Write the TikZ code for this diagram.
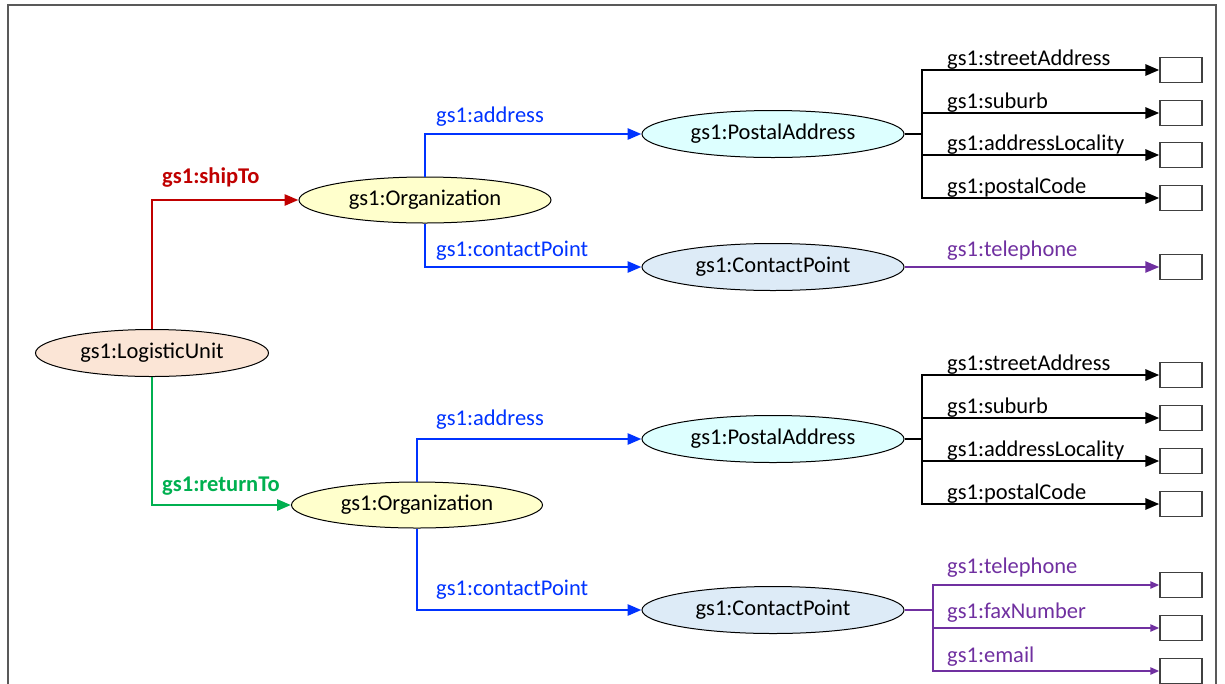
\documentclass[tikz,border=0pt]{standalone}
\usepackage{fontspec}
\setmainfont{Carlito}
\usetikzlibrary{shapes.geometric,arrows.meta}
\definecolor{cRed}{HTML}{C00000}
\definecolor{cGreen}{HTML}{00B050}
\definecolor{cBlue}{HTML}{0033FF}
\definecolor{cPurple}{HTML}{7030A0}
\definecolor{fPeach}{HTML}{FBE5D6}
\definecolor{fYellow}{HTML}{FFFFCC}
\definecolor{fCyan}{HTML}{DDFFFF}
\definecolor{fBlue}{HTML}{DDEBF7}
\newcommand\fsz{\fontsize{22.5}{27}\selectfont}
\tikzset{
  cls/.style={ellipse, draw=black, line width=1pt, inner sep=0pt, font=\fsz},
  conn/.style={line width=2.8pt, -{Triangle[length=14pt,width=11pt]}},
  thinconn/.style={line width=2.2pt, -{Triangle[length=9pt,width=7pt]}},
  lit/.style={draw=black!75, line width=1.3pt, minimum width=42pt, minimum height=25pt, inner sep=0pt},
  lbl/.style={anchor=base west, inner sep=0pt, font=\fsz},
  blbl/.style={anchor=base west, inner sep=0pt, font=\fsz\bfseries},
}
\begin{document}
\begin{tikzpicture}[x=1pt,y=-1pt]
\useasboundingbox (0,0) rectangle (1225,683);
\draw[line width=2pt, black!65] (8,700) -- (8,5) -- (1216,5) -- (1216,700);

% class nodes
\node[cls, fill=fPeach, minimum width=233pt, minimum height=47pt] (lu) at (152,353) {gs1:LogisticUnit};
\node[cls, fill=fYellow, minimum width=252pt, minimum height=46pt] (org1) at (425,200) {gs1:Organization};
\node[cls, fill=fYellow, minimum width=251pt, minimum height=46pt] (org2) at (417,505) {gs1:Organization};
\node[cls, fill=fCyan, minimum width=262pt, minimum height=47pt] (pa1) at (773,134) {gs1:PostalAddress};
\node[cls, fill=fBlue, minimum width=262pt, minimum height=47pt] (cp1) at (773,267) {gs1:ContactPoint};
\node[cls, fill=fCyan, minimum width=262pt, minimum height=47pt] (pa2) at (773,439) {gs1:PostalAddress};
\node[cls, fill=fBlue, minimum width=262pt, minimum height=47pt] (cp2) at (773,610) {gs1:ContactPoint};

% literal boxes
\node[lit] (b11) at (1181,70) {};
\node[lit] (b12) at (1181,113) {};
\node[lit] (b13) at (1181,155) {};
\node[lit] (b14) at (1181,198) {};
\node[lit] (t1) at (1181,267) {};
\node[lit] (b21) at (1181,375) {};
\node[lit] (b22) at (1181,418) {};
\node[lit] (b23) at (1181,461) {};
\node[lit] (b24) at (1181,504) {};
\node[lit] (t21) at (1181,585) {};
\node[lit] (t22) at (1181,628) {};
\node[lit] (t23) at (1181,671) {};

% junctions
\coordinate (j1) at (922,134);
\coordinate (j2) at (922,439);
\coordinate (j3) at (933,610);

% main connectors
\draw[conn, cRed] (lu.north) |- (org1.west);
\draw[conn, cGreen] (lu.south) |- (org2.west);
\draw[conn, cBlue] (org1.north) |- (pa1.west);
\draw[conn, cBlue] (org1.south) |- (cp1.west);
\draw[conn, cBlue] (org2.north) |- (pa2.west);
\draw[conn, cBlue] (org2.south) |- (cp2.west);

% address properties
\foreach \b in {b11,b12,b13,b14} \draw[conn] (pa1.east) -- (j1) |- (\b.west);
\foreach \b in {b21,b22,b23,b24} \draw[conn] (pa2.east) -- (j2) |- (\b.west);
\draw[conn, cPurple, line width=2.4pt] (cp1.east) -- (t1.west);
\foreach \b in {t21,t22,t23} \draw[thinconn, cPurple] (cp2.east) -- (j3) |- (\b.west);

% labels
\node[blbl, text=cRed] (lship) at (162,183) {gs1:shipTo};
\node[blbl, text=cGreen] (lret) at (162,491) {gs1:returnTo};
\node[lbl, text=cBlue] (la1) at (436,122) {gs1:address};
\node[lbl, text=cBlue] (lc1) at (436,256) {gs1:contactPoint};
\node[lbl, text=cBlue] (la2) at (436,425) {gs1:address};
\node[lbl, text=cBlue] (lc2) at (436,595) {gs1:contactPoint};

\node[lbl] (s11) at (947,65) {gs1:streetAddress};
\node[lbl] (s12) at (947,108) {gs1:suburb};
\node[lbl] (s13) at (947,150) {gs1:addressLocality};
\node[lbl] (s14) at (947,193) {gs1:postalCode};
\node[lbl, text=cPurple] (tel1) at (947,256) {gs1:telephone};
\node[lbl] (s21) at (947,370) {gs1:streetAddress};
\node[lbl] (s22) at (947,413) {gs1:suburb};
\node[lbl] (s23) at (947,456) {gs1:addressLocality};
\node[lbl] (s24) at (947,499) {gs1:postalCode};
\node[lbl, text=cPurple] (tel2) at (947,573) {gs1:telephone};
\node[lbl, text=cPurple] (fax2) at (947,618) {gs1:faxNumber};
\node[lbl, text=cPurple] (em2) at (947,662) {gs1:email};
\end{tikzpicture}
\end{document}
